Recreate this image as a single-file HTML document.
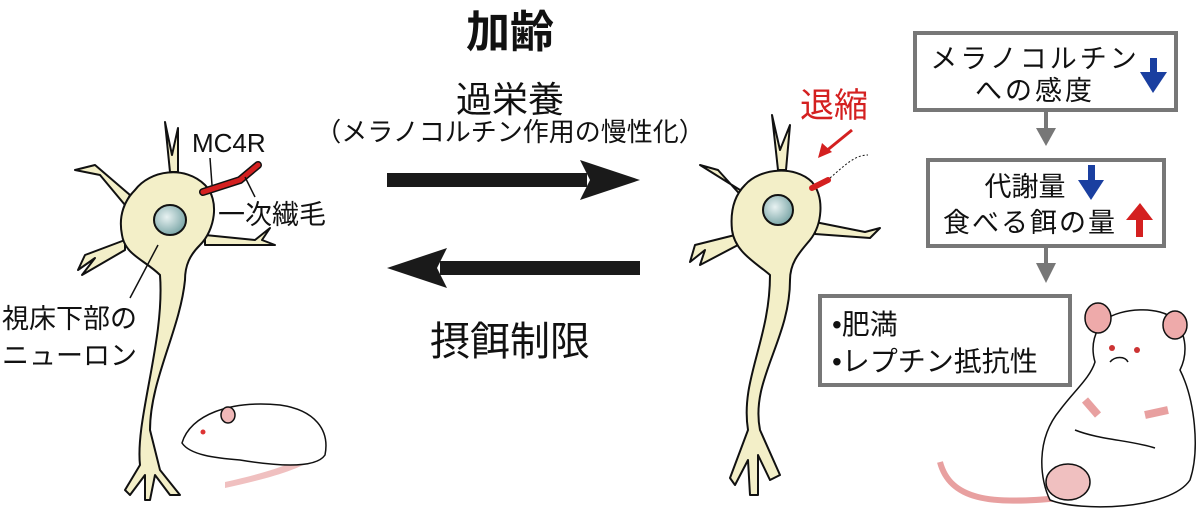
<!DOCTYPE html>
<html><head><meta charset="utf-8"><style>
body{margin:0;width:1200px;height:520px;background:#fff;overflow:hidden}
svg text{font-family:"Liberation Sans","Noto Sans CJK JP",sans-serif;fill:#111}
</style></head><body>
<svg width="1200" height="520" viewBox="0 0 1200 520" xmlns="http://www.w3.org/2000/svg">
<defs>
<radialGradient id="nuc" cx="0.4" cy="0.4" r="0.6"><stop offset="0" stop-color="#e8f2f2"/><stop offset="1" stop-color="#7fa9aa"/></radialGradient>
</defs>
<text x="510" y="47" font-size="44" font-weight="bold" text-anchor="middle">加齢</text>
<text x="510" y="112" font-size="36" text-anchor="middle">過栄養</text>
<text x="510" y="141" font-size="26" text-anchor="middle">（メラノコルチン作用の慢性化）</text>
<text x="510" y="355" font-size="40" text-anchor="middle">摂餌制限</text>
<rect x="387" y="173" width="200" height="14" fill="#1a1a1a"/>
<polygon points="580,160 640,180 580,200 590,180" fill="#1a1a1a"/>
<rect x="440" y="261" width="200" height="14" fill="#1a1a1a"/>
<polygon points="447,248 387,268 447,288 437,268" fill="#1a1a1a"/>

<g stroke="#111" stroke-width="2" fill="#f3efc8" stroke-linejoin="round">
<path d="M170,172 L165,122 L172,155 L178,128 L178,172 Z"/>
<path d="M130,195 L95,165 L75,170 L100,175 L125,205 Z"/>
<path d="M125,240 L85,255 L78,270 L95,258 L82,275 L125,250 Z"/>
<path d="M205,235 L255,240 L270,228 L262,240 L275,245 L205,245 Z"/>
<path d="M135,190 C150,170 185,165 205,185 C220,200 215,230 200,245 C190,255 185,265 185,280 C180,330 150,380 150,430 L160,470 L180,495 L170,495 L155,475 L150,500 L145,500 L145,475 L130,495 L125,490 L140,465 C135,420 165,340 160,275 C145,260 125,255 122,235 C118,215 125,200 135,190 Z"/>
</g>
<ellipse cx="170" cy="220" rx="16" ry="15" fill="url(#nuc)" stroke="#111" stroke-width="2"/>
<path d="M203,192 L240,180 L258,165" stroke="#111" stroke-width="8" fill="none" stroke-linecap="round"/>
<path d="M203,192 L240,180 L258,165" stroke="#d42020" stroke-width="5" fill="none" stroke-linecap="round"/>
<g stroke="#111" stroke-width="1.5"><line x1="210" y1="158" x2="212" y2="185"/><line x1="245" y1="177" x2="255" y2="197"/><line x1="158" y1="245" x2="130" y2="298"/></g>
<text x="192" y="152" font-size="26">MC4R</text>
<text x="218" y="224" font-size="27">一次繊毛</text>
<text x="2" y="328" font-size="27">視床下部の</text>
<text x="2" y="365" font-size="27">ニューロン</text>

<g stroke="#111" stroke-width="1.5">
<path d="M320,455 C300,470 270,478 225,488 L225,482 C270,472 300,462 318,448 Z" fill="#f0c0c0" stroke="none"/>
<path d="M182,443 C190,415 230,400 280,405 C315,410 330,430 325,455 C315,470 270,465 240,460 C215,458 190,455 182,443 Z" fill="#fff"/>
<ellipse cx="228" cy="415" rx="7" ry="8" fill="#f0b8b8"/>
<circle cx="203" cy="432" r="2.5" fill="#d33" stroke="none"/>
</g>

<g stroke="#111" stroke-width="2" fill="#f3efc8" stroke-linejoin="round">
<path d="M778,170 L772,115 L780,150 L790,125 L786,170 Z"/>
<path d="M740,190 L700,165 L718,170 L745,200 Z"/>
<path d="M735,235 L695,245 L690,262 L705,250 L700,265 L738,245 Z"/>
<path d="M815,222 L865,232 L880,228 L870,238 L815,234 Z"/>
<path d="M745,185 C760,168 795,165 812,182 C825,198 822,225 810,240 C800,252 790,262 790,280 C790,340 750,380 760,430 L780,475 L770,480 L758,455 L758,495 L750,495 L748,460 L735,485 L730,478 L748,430 C740,380 770,340 770,275 C755,262 735,252 732,230 C730,210 735,195 745,185 Z"/>
</g>
<ellipse cx="778" cy="210" rx="15" ry="15" fill="url(#nuc)" stroke="#111" stroke-width="2"/>
<path d="M812,188 L828,180" stroke="#d42020" stroke-width="6" stroke-linecap="round"/>
<path d="M830,178 C845,165 855,155 868,155" stroke="#111" stroke-width="1" stroke-dasharray="2,2" fill="none"/>
<text x="800" y="117" font-size="34" style="fill:#d42020">退縮</text>
<line x1="852" y1="130" x2="825" y2="152" stroke="#d42020" stroke-width="3"/>
<polygon points="818,158 822,143 832,152" fill="#d42020"/>

<g fill="#fff" stroke="#777" stroke-width="4">
<rect x="915" y="33" width="261" height="77"/>
<rect x="928" y="160" width="236" height="86"/>
<rect x="820" y="296" width="250" height="89"/>
</g>
<text x="1035" y="68" font-size="27" letter-spacing="3" text-anchor="middle">メラノコルチン</text>
<text x="1035" y="100" font-size="27" letter-spacing="3" text-anchor="middle">への感度</text>
<text x="1025" y="196" font-size="27" text-anchor="middle">代謝量</text>
<text x="1030" y="232" font-size="27" letter-spacing="2" text-anchor="middle">食べる餌の量</text>
<text x="832" y="334" font-size="28">•肥満</text>
<text x="832" y="371" font-size="28">•レプチン抵抗性</text>
<g fill="#1a3fa0"><rect x="1150" y="58" width="7" height="22"/><polygon points="1140,72 1167,72 1153,93"/></g>
<g fill="#1a3fa0"><rect x="1088" y="165" width="7" height="20"/><polygon points="1078,180 1104,180 1091,200"/></g>
<g fill="#d42020"><rect x="1136" y="215" width="7" height="22"/><polygon points="1126,220 1153,220 1140,203"/></g>
<g fill="#777"><rect x="1044" y="110" width="4" height="25"/><polygon points="1036,128 1056,128 1046,146"/>
<rect x="1044" y="246" width="4" height="25"/><polygon points="1036,263 1056,263 1046,283"/></g>

<g stroke="#111" stroke-width="1.5">
<path d="M940,462 C950,500 990,505 1060,498" stroke="#e8a0a0" stroke-width="6" fill="none"/>
<path d="M1105,320 C1120,308 1160,305 1175,320 C1190,340 1185,360 1180,370 C1195,400 1200,450 1190,480 C1170,510 1080,512 1050,500 C1040,480 1035,440 1060,410 C1075,390 1090,378 1095,362 C1090,345 1095,330 1105,320 Z" fill="#fff"/>
<ellipse cx="1098" cy="318" rx="13" ry="15" fill="#eeaaaa"/>
<ellipse cx="1175" cy="325" rx="12" ry="14" fill="#eeaaaa"/>
<circle cx="1112" cy="348" r="3" fill="#c33" stroke="none"/>
<circle cx="1137" cy="350" r="3" fill="#c33" stroke="none"/>
<path d="M1110,362 C1115,356 1125,356 1128,362" fill="none"/>
<path d="M1085,400 L1098,415" stroke="#e8a0a0" stroke-width="8"/>
<path d="M1145,415 L1168,410" stroke="#e8a0a0" stroke-width="8"/>
<path d="M1075,430 C1100,440 1130,440 1155,448" fill="none"/>
<ellipse cx="1068" cy="482" rx="22" ry="18" fill="#f0c0c0"/>
</g>
</svg>
</body></html>
